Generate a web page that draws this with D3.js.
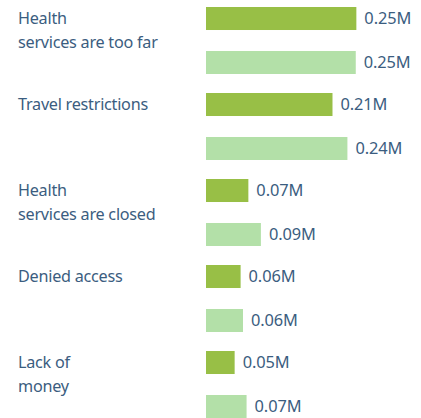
<!DOCTYPE html>
<html lang="en">
<head>
  <meta charset="UTF-8">
  <title>Barriers to health services</title>
  <script src="https://d3js.org/d3.v7.min.js"></script>
  <style>
    body { margin: 0; background: #fff; }
    svg { display: block; font-family: "Noto Sans", sans-serif; }
    .cat text { font-size: 16.2px; fill: #3b5d80; letter-spacing: -0.25px; }
    .val { font-size: 16.4px; fill: #3b5d80; letter-spacing: -0.1px; }
  </style>
</head>
<body>
<svg width="421" height="418"></svg>
<script>
const categories = ["Health services are too far", "Travel restrictions", "Health services are closed", "Denied access", "Lack of money"];
const categoryLines = [["Health", "services are too far"], ["Travel restrictions"], ["Health", "services are closed"], ["Denied access"], ["Lack of", "money"]];
const series = ["first", "second"];
const firstValues = [0.252, 0.212, 0.071, 0.058, 0.048];
const secondValues = [0.251, 0.237, 0.092, 0.062, 0.068];
const colors = ["#98bf46", "#b3e0a8"];

const svg = d3.select("svg");

const y = d3.scaleBand().domain(categories).range([7, 437]);
const yInner = d3.scaleBand().domain(series).range([0, 67]).paddingInner(0.477);
const x = d3.scaleLinear().domain([0, 0.3]).range([206, 385]);

const rows = [];
categories.forEach((c, i) => {
  rows.push({ cat: c, s: "first", v: firstValues[i] });
  rows.push({ cat: c, s: "second", v: secondValues[i] });
});

svg.selectAll("rect.bar")
  .data(rows)
  .enter().append("rect")
  .attr("class", "bar")
  .attr("x", x(0))
  .attr("y", d => y(d.cat) + yInner(d.s))
  .attr("width", d => x(d.v) - x(0))
  .attr("height", yInner.bandwidth())
  .attr("fill", d => colors[series.indexOf(d.s)]);

svg.selectAll("text.val")
  .data(rows)
  .enter().append("text")
  .attr("class", "val")
  .attr("x", d => x(d.v) + 8)
  .attr("y", d => y(d.cat) + yInner(d.s) + yInner.bandwidth() / 2)
  .attr("dy", "0.35em")
  .text(d => d3.format(".2f")(d.v) + "M");

// category labels, first line lines up with the first bar
const cat = svg.selectAll("g.cat")
  .data(categories)
  .enter().append("g")
  .attr("class", "cat");

cat.selectAll("text")
  .data((d, i) => categoryLines[i].map((t, k) => ({ t, k, cat: d })))
  .enter().append("text")
  .attr("x", 18)
  .attr("y", d => y(d.cat) + yInner.bandwidth() / 2 + d.k * 23.5)
  .attr("dy", "0.35em")
  .text(d => d.t);
</script>
</body>
</html>
